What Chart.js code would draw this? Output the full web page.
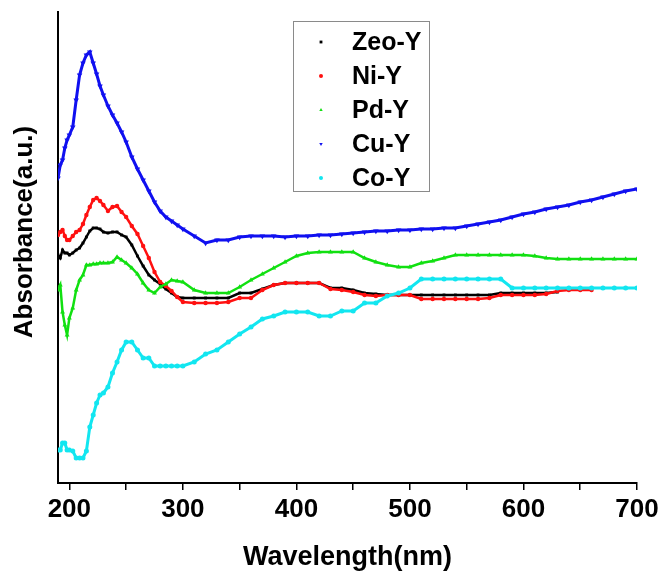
<!DOCTYPE html>
<html>
<head>
<meta charset="utf-8">
<script src="https://cdn.jsdelivr.net/npm/chart.js@4.4.1/dist/chart.umd.min.js"></script>
<style>
  html, body { margin: 0; padding: 0; background: #fff; }
</style>
</head>
<body>
<canvas id="myChart" width="663" height="575"></canvas>
<script>
// wavelength (nm) shared by all series
const wavelength = [190, 192, 194, 196, 198, 200, 203, 206, 209, 212, 215, 218, 221, 224, 227, 230,
  234, 238, 242, 246, 250, 255, 260, 265, 270, 275, 280, 285, 290, 295, 300,
  310, 320, 330, 340, 350, 360, 370, 380, 390, 400, 410, 420, 430, 440, 450, 460, 470, 480, 490, 500,
  510, 520, 530, 540, 550, 560, 570, 580, 590, 600, 610, 620, 630, 640, 650, 660, 670, 680, 690, 700];

const zeoY = [2.28, 2.25, 2.33, 2.30, 2.30, 2.28, 2.30, 2.33, 2.35, 2.40, 2.46, 2.52, 2.55, 2.55, 2.54, 2.51,
  2.50, 2.51, 2.51, 2.48, 2.46, 2.38, 2.27, 2.17, 2.08, 2.03, 1.99, 1.94, 1.90, 1.86, 1.85,
  1.85, 1.85, 1.85, 1.85, 1.90, 1.90, 1.94, 1.98, 2.00, 2.00, 2.00, 2.00, 1.95, 1.95, 1.93, 1.90, 1.89, 1.88, 1.88, 1.88,
  1.88, 1.88, 1.88, 1.88, 1.88, 1.88, 1.88, 1.90, 1.90, 1.90, 1.90, 1.90, 1.91, null, null, null, null, null, null, null];

const niY = [2.48, 2.51, 2.53, 2.47, 2.43, 2.43, 2.47, 2.51, 2.53, 2.59, 2.68, 2.76, 2.83, 2.85, 2.82, 2.78,
  2.72, 2.76, 2.77, 2.71, 2.66, 2.57, 2.49, 2.37, 2.25, 2.11, 2.01, 1.97, 1.92, 1.86, 1.81,
  1.80, 1.80, 1.80, 1.81, 1.85, 1.85, 1.93, 1.98, 2.00, 2.00, 2.00, 2.00, 1.94, 1.93, 1.91, 1.88, 1.87, 1.88, 1.88, 1.88,
  1.84, 1.84, 1.84, 1.84, 1.84, 1.84, 1.85, 1.88, 1.88, 1.88, 1.88, 1.89, 1.92, 1.93, 1.93, 1.93, null, null, null, null];

const pdY = [1.93, 1.98, 1.71, 1.58, 1.48, 1.65, 1.75, 1.93, 2.03, 2.08, 2.18, 2.18, 2.19, 2.19, 2.20, 2.20,
  2.20, 2.21, 2.26, 2.23, 2.20, 2.15, 2.09, 2.00, 1.93, 1.90, 1.96, 1.99, 2.03, 2.02, 2.01,
  1.93, 1.90, 1.90, 1.90, 1.96, 2.03, 2.09, 2.15, 2.21, 2.27, 2.30, 2.31, 2.31, 2.31, 2.31, 2.25, 2.21, 2.18, 2.16, 2.16,
  2.20, 2.22, 2.25, 2.28, 2.28, 2.28, 2.28, 2.28, 2.28, 2.28, 2.27, 2.25, 2.24, 2.24, 2.24, 2.24, 2.24, 2.24, 2.24, 2.24];

const cuY = [3.05, 3.18, 3.23, 3.35, 3.43, 3.48, 3.56, 3.83, 4.08, 4.20, 4.28, 4.31, 4.20, 4.09, 3.97, 3.88,
  3.77, 3.68, 3.60, 3.51, 3.41, 3.26, 3.14, 3.03, 2.92, 2.81, 2.72, 2.66, 2.62, 2.58, 2.54,
  2.47, 2.40, 2.43, 2.43, 2.46, 2.47, 2.47, 2.47, 2.46, 2.47, 2.47, 2.48, 2.48, 2.49, 2.50, 2.51, 2.52, 2.52, 2.53, 2.53,
  2.54, 2.54, 2.55, 2.55, 2.57, 2.59, 2.61, 2.63, 2.66, 2.69, 2.71, 2.74, 2.76, 2.78, 2.81, 2.83, 2.86, 2.89, 2.92, 2.94];

const coY = [0.33, 0.33, 0.40, 0.40, 0.33, 0.33, 0.32, 0.25, 0.25, 0.25, 0.32, 0.56, 0.68, 0.80, 0.88, 0.90,
  0.96, 1.10, 1.21, 1.33, 1.41, 1.41, 1.33, 1.25, 1.25, 1.17, 1.17, 1.17, 1.17, 1.17, 1.17,
  1.21, 1.29, 1.33, 1.41, 1.49, 1.56, 1.64, 1.67, 1.71, 1.71, 1.71, 1.67, 1.67, 1.72, 1.72, 1.80, 1.80, 1.87, 1.90, 1.95,
  2.04, 2.04, 2.04, 2.04, 2.04, 2.04, 2.04, 2.04, 1.95, 1.95, 1.95, 1.95, 1.95, 1.95, 1.95, 1.95, 1.95, 1.95, 1.95, 1.95];

const seriesNames = ["Zeo-Y", "Ni-Y", "Pd-Y", "Cu-Y", "Co-Y"];
const xTicks = [200, 250, 300, 350, 400, 450, 500, 550, 600, 650, 700];
const xTickLabels = ["200", "", "300", "", "400", "", "500", "", "600", "", "700"];

const FONT = "'Liberation Sans', Arial, sans-serif";

function pts(values) {
  return wavelength.map((w, i) => ({ x: w, y: values[i] }));
}

const styles = [
  { color: "#000000", pointStyle: "rect", radius: 2, rotation: 0, width: 2.5 },
  { color: "#ff1010", pointStyle: "circle", radius: 2.2, rotation: 0, width: 2.5 },
  { color: "#11e011", pointStyle: "triangle", radius: 2.8, rotation: 0, width: 2.5 },
  { color: "#1010f0", pointStyle: "triangle", radius: 3.2, rotation: 180, width: 3 },
  { color: "#12e6f0", pointStyle: "circle", radius: 2.5, rotation: 0, width: 3 },
];
const allValues = [zeoY, niY, pdY, cuY, coY];

const datasets = allValues.map((vals, i) => ({
  label: seriesNames[i],
  data: pts(vals),
  showLine: true,
  borderColor: styles[i].color,
  backgroundColor: styles[i].color,
  borderWidth: styles[i].width,
  pointStyle: styles[i].pointStyle,
  pointRotation: styles[i].rotation,
  pointRadius: styles[i].radius,
  pointBorderWidth: 0,
  order: 5 - i,
}));

// y axis title and the boxed legend
const extras = {
  id: "extras",
  afterDraw(chart) {
    const ctx = chart.ctx;
    ctx.save();
    ctx.fillStyle = "#000";
    ctx.font = "bold 26px " + FONT;
    ctx.textAlign = "center";
    ctx.textBaseline = "middle";
    ctx.translate(25, 232);
    ctx.rotate(-Math.PI / 2);
    ctx.fillText("Absorbance(a.u.)", 0, 0);
    ctx.restore();

    ctx.save();
    ctx.fillStyle = "#fff";
    ctx.fillRect(293, 21, 136, 170);
    ctx.strokeStyle = "#8a8a8a";
    ctx.lineWidth = 1;
    ctx.strokeRect(293.5, 21.5, 136, 170);
    ctx.font = "bold 25px " + FONT;
    ctx.textAlign = "left";
    ctx.textBaseline = "middle";
    chart.data.datasets.forEach((ds, i) => {
      const y = 42 + i * 34;
      ctx.fillStyle = styles[i].color;
      ctx.strokeStyle = styles[i].color;
      Chart.helpers.drawPoint(ctx, {
        pointStyle: styles[i].pointStyle,
        radius: 2,
        rotation: styles[i].rotation,
        borderWidth: 0,
      }, 321, y);
      ctx.fillStyle = "#000";
      ctx.fillText(ds.label, 352, y + 1);
    });
    ctx.restore();
  },
};

new Chart(document.getElementById("myChart"), {
  type: "scatter",
  data: { datasets },
  options: {
    responsive: false,
    animation: false,
    devicePixelRatio: 1,
    layout: { padding: { top: 12, right: 26, left: 0, bottom: 0 } },
    plugins: { legend: { display: false }, tooltip: { enabled: false } },
    scales: {
      x: {
        type: "linear",
        min: 190,
        max: 700,
        afterBuildTicks: (s) => { s.ticks = xTicks.map((v) => ({ value: v })); },
        afterFit: (s) => { s.height = 92; },
        ticks: {
          autoSkip: false,
          maxRotation: 0,
          padding: 4,
          color: "#000",
          font: { family: FONT, size: 26, weight: "bold" },
          callback: (v) => xTickLabels[xTicks.indexOf(v)],
        },
        grid: { drawOnChartArea: false, drawTicks: true, tickLength: 7, color: "#000", lineWidth: 1.5 },
        border: { display: true, color: "#000", width: 2 },
        title: {
          display: true,
          text: "Wavelength(nm)",
          color: "#000",
          font: { family: FONT, size: 27, weight: "bold" },
          padding: { top: 0, bottom: 1 },
        },
      },
      y: {
        type: "linear",
        min: 0,
        max: 4.71,
        afterFit: (s) => { s.width = 58; },
        ticks: { display: false },
        grid: { display: false, drawTicks: false },
        border: { display: true, color: "#000", width: 2 },
      },
    },
  },
  plugins: [extras],
});
</script>
</body>
</html>
